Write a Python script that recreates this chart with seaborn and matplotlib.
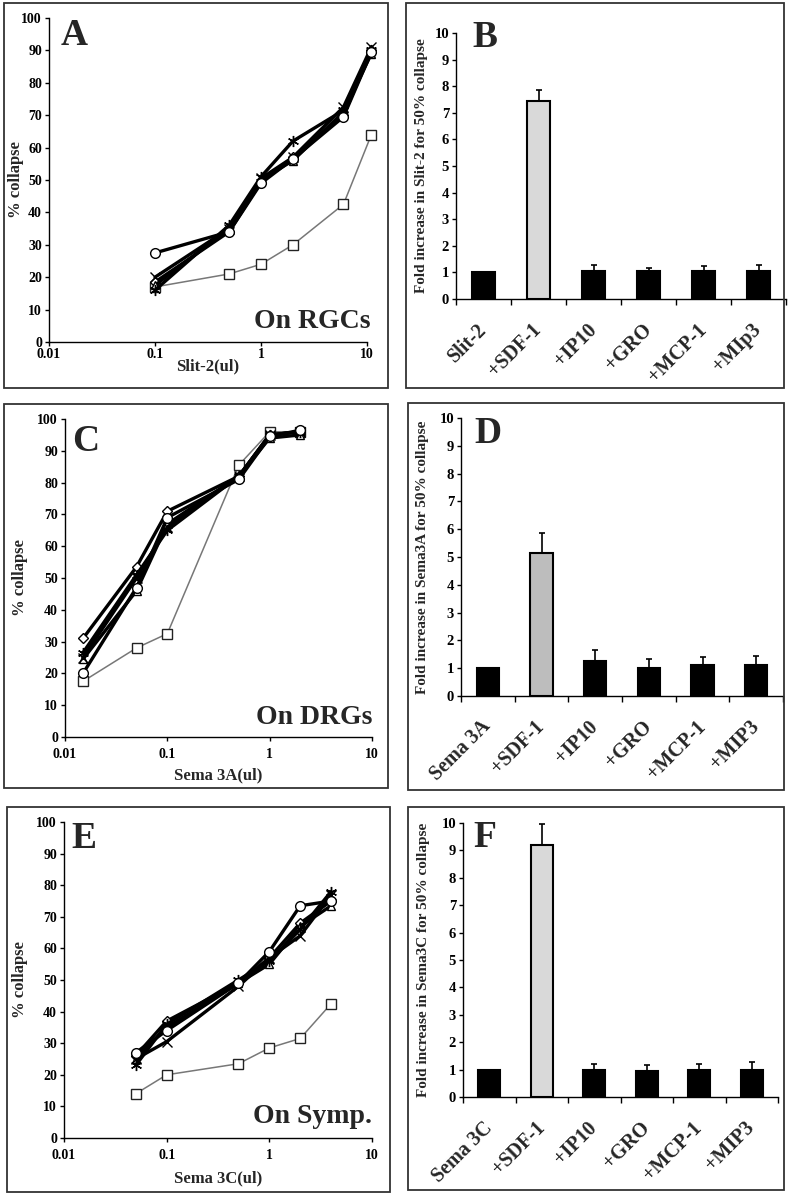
import numpy as np
import pandas as pd
import matplotlib
matplotlib.use('Agg')
import matplotlib.pyplot as plt
from matplotlib.patches import Rectangle
from matplotlib.transforms import ScaledTranslation
import seaborn as sns

sns.set_theme(style='white')
plt.rcParams['font.family'] = ['Liberation Serif', 'DejaVu Serif']
plt.rcParams['font.weight'] = 'bold'
plt.rcParams['axes.labelweight'] = 'bold'

# ---- line panels: % collapse vs dose ----
a_dose = [0.1, 0.5, 1, 2, 6, 11]
a_square = [17, 21, 24, 30, 42.5, 64]
a_diamond = [18.5, 34, 49.5, 57, 70, 90]
a_triangle = [17.5, 35, 50, 56, 71, 89]
a_cross = [20, 35, 50.5, 57, 72.5, 91]
a_star = [16, 36, 51, 62, 71.5, 90]
a_circle = [27.5, 34, 49, 56.5, 69.5, 89.5]

c_dose = [0.015, 0.05, 0.1, 0.5, 1, 2]
c_square = [17.5, 28, 32.5, 85.5, 96, 96]
c_diamond = [31, 53.5, 71, 82, 95, 96]
c_triangle = [24.5, 46, 67, 82, 94, 95]
c_cross = [25, 50, 66, 82, 95, 96]
c_star = [26.5, 51, 65, 82, 95, 96]
c_circle = [20, 47, 69, 81, 94.5, 96.5]

e_dose = [0.05, 0.1, 0.5, 1, 2, 4]
e_square = [14, 20, 23.5, 28.5, 31.5, 42.5]
e_diamond = [26, 37, 49, 57, 68, 75]
e_triangle = [25, 35, 49, 55, 67, 73.5]
e_cross = [25, 30.5, 48, 57, 64, 77]
e_star = [23, 36, 50, 56, 66, 78]
e_circle = [27, 34, 49, 59, 73.5, 75]

# ---- bar panels: fold increase for 50% collapse ----
b_labels = ['Slit-2', '+SDF-1', '+IP10', '+GRO', '+MCP-1', '+MIp3']
b_fold = [1.0, 7.45, 1.05, 1.05, 1.05, 1.07]
b_err = [0, 0.4, 0.22, 0.12, 0.2, 0.22]

d_labels = ['Sema 3A', '+SDF-1', '+IP10', '+GRO', '+MCP-1', '+MIP3']
d_fold = [1.0, 5.15, 1.25, 1.0, 1.12, 1.13]
d_err = [0, 0.7, 0.4, 0.32, 0.3, 0.3]

f_labels = ['Sema 3C', '+SDF-1', '+IP10', '+GRO', '+MCP-1', '+MIP3']
f_fold = [1.0, 9.2, 0.97, 0.95, 1.0, 1.0]
f_err = [0, 0.75, 0.25, 0.2, 0.2, 0.28]

W, H = 792, 1200
fig = plt.figure(figsize=(W / 100, H / 100), dpi=100)


def px_axes(left, right, top, bottom):
    return fig.add_axes([left / W, 1 - bottom / H, (right - left) / W, (bottom - top) / H])


def frame(x0, x1, y0, y1):
    fig.patches.append(Rectangle((x0 / W, 1 - y1 / H), (x1 - x0) / W, (y1 - y0) / H,
                                 transform=fig.transFigure, fill=False,
                                 edgecolor='#333333', linewidth=1.3))


def line_panel(ax, dose, series, xlabel, letter, lpos, tag, ylab_x, xlab_y, tpad):
    styles = [('square', 's', 6.5), ('diamond', 'D', 5), ('triangle', '^', 6),
              ('cross', 'x', 7), ('star', (6, 2, 0), 8), ('circle', 'o', 7)]
    for name, m, ms in styles:
        if name == 'square':
            sns.lineplot(x=dose, y=series[name], ax=ax, color='#777777', linewidth=1.1,
                         marker=m, markersize=ms, markerfacecolor='white',
                         markeredgecolor='#222222', markeredgewidth=1.0, clip_on=False)
        else:
            sns.lineplot(x=dose, y=series[name], ax=ax, color='black', linewidth=2.4,
                         marker=m, markersize=ms, markerfacecolor='white',
                         markeredgecolor='black', markeredgewidth=1.0, clip_on=False)
    ax.set_xscale('log')
    ax.set_xlim(0.01, 10)
    ax.set_ylim(0, 100)
    ax.set_xticks([0.01, 0.1, 1, 10])
    ax.set_xticklabels(['0.01', '0.1', '1', '10'])
    ax.minorticks_off()
    ax.set_yticks(range(0, 101, 10))
    ax.tick_params(direction='out', length=3, width=1, labelsize=10, pad=2,
                   bottom=True, left=True, colors='black')
    ax.tick_params(axis='x', pad=tpad)
    sns.despine(ax=ax)
    for s in ['left', 'bottom']:
        ax.spines[s].set_color('black')
        ax.spines[s].set_linewidth(1)
    ax.set_xlabel(xlabel, fontsize=12)
    ax.set_ylabel('% collapse', fontsize=12)
    ax.yaxis.set_label_coords(ylab_x, 0.5)
    ax.xaxis.set_label_coords(0.5, xlab_y)
    ax.text(lpos[0], lpos[1], letter, transform=ax.transAxes, fontsize=27,
            fontweight='bold', ha='left', va='baseline')
    ax.text(tag[1], tag[2], tag[0], transform=ax.transAxes, fontsize=20,
            fontweight='bold', ha='right', va='baseline')


def bar_panel(ax, labels, fold, err, sdf_color, ylabel, letter, lpos, ylab_x):
    df = pd.DataFrame({'cond': labels, 'fold': fold})
    colors = [sdf_color if c == '+SDF-1' else 'black' for c in labels]
    sns.barplot(data=df, x='cond', y='fold', hue='cond', palette=colors, legend=False,
                width=0.42, edgecolor='black', linewidth=1.5, ax=ax, dodge=False)
    idx = [i for i, e in enumerate(err) if e > 0]
    ax.errorbar(idx, [fold[i] for i in idx],
                yerr=[np.zeros(len(idx)), [err[i] for i in idx]], fmt='none',
                ecolor='black', elinewidth=1.2, capsize=2.5, capthick=1.2)
    ax.set_xlim(-0.5, len(labels) - 0.5)
    ax.set_ylim(0, 10)
    ax.set_yticks(range(0, 11))
    ax.set_xticks(np.arange(-0.5, len(labels), 1))
    ax.set_xticklabels([])
    ax.set_xticks(range(len(labels)), minor=True)
    ax.set_xticklabels(labels, minor=True, rotation=45, ha='right', va='center',
                       rotation_mode='anchor', fontsize=14.5, fontweight='bold')
    shift = ScaledTranslation(8 / 72, 0, fig.dpi_scale_trans)
    for t in ax.get_xticklabels(minor=True):
        t.set_transform(t.get_transform() + shift)
    ax.tick_params(axis='x', which='major', direction='out', length=4, width=1,
                   bottom=True, colors='black')
    ax.tick_params(axis='x', which='minor', length=0, pad=20, bottom=True)
    ax.tick_params(axis='y', direction='out', length=3, width=1, labelsize=10.5,
                   left=True, pad=2, colors='black')
    sns.despine(ax=ax)
    for s in ['left', 'bottom']:
        ax.spines[s].set_color('black')
        ax.spines[s].set_linewidth(1)
    ax.set_xlabel('')
    ax.set_ylabel(ylabel, fontsize=11)
    ax.yaxis.set_label_coords(ylab_x, 0.5)
    ax.text(lpos[0], lpos[1], letter, transform=ax.transAxes, fontsize=27,
            fontweight='bold', ha='left', va='baseline')


# frames
frame(4, 388, 3, 388)
frame(406, 784, 3, 388)
frame(4, 388, 404, 788)
frame(408, 784, 403, 790)
frame(7, 390, 807, 1192)
frame(408, 784, 807, 1190)

axA = px_axes(49, 367, 18, 342)
line_panel(axA, a_dose,
           dict(square=a_square, diamond=a_diamond, triangle=a_triangle,
                cross=a_cross, star=a_star, circle=a_circle),
           'Slit-2(ul)', 'A', (0.035, 0.917), ('On RGCs', 1.01, 0.043),
           -0.078, -0.052, 1)

axC = px_axes(65, 372, 419, 737)
line_panel(axC, c_dose,
           dict(square=c_square, diamond=c_diamond, triangle=c_triangle,
                cross=c_cross, star=c_star, circle=c_circle),
           'Sema 3A(ul)', 'C', (0.023, 0.9), ('On DRGs', 1.0, 0.041),
           -0.12, -0.097, 5)

axE = px_axes(64, 372, 822, 1138)
line_panel(axE, e_dose,
           dict(square=e_square, diamond=e_diamond, triangle=e_triangle,
                cross=e_cross, star=e_star, circle=e_circle),
           'Sema 3C(ul)', 'E', (0.023, 0.918), ('On Symp.', 1.0, 0.047),
           -0.117, -0.101, 5)

axB = px_axes(456, 786, 33, 299)
bar_panel(axB, b_labels, b_fold, b_err, '#d9d9d9',
          'Fold increase in Slit-2 for 50% collapse', 'B', (0.05, 0.947), -0.085)

axD = px_axes(461, 783, 418, 696)
bar_panel(axD, d_labels, d_fold, d_err, '#bdbdbd',
          'Fold increase in Sema3A for 50% collapse', 'D', (0.04, 0.91), -0.099)

axF = px_axes(463, 778, 823, 1097)
bar_panel(axF, f_labels, f_fold, f_err, '#d9d9d9',
          'Fold increase in Sema3C for 50% collapse', 'F', (0.032, 0.912), -0.105)

fig.savefig('out.png', dpi=100, facecolor='white')
